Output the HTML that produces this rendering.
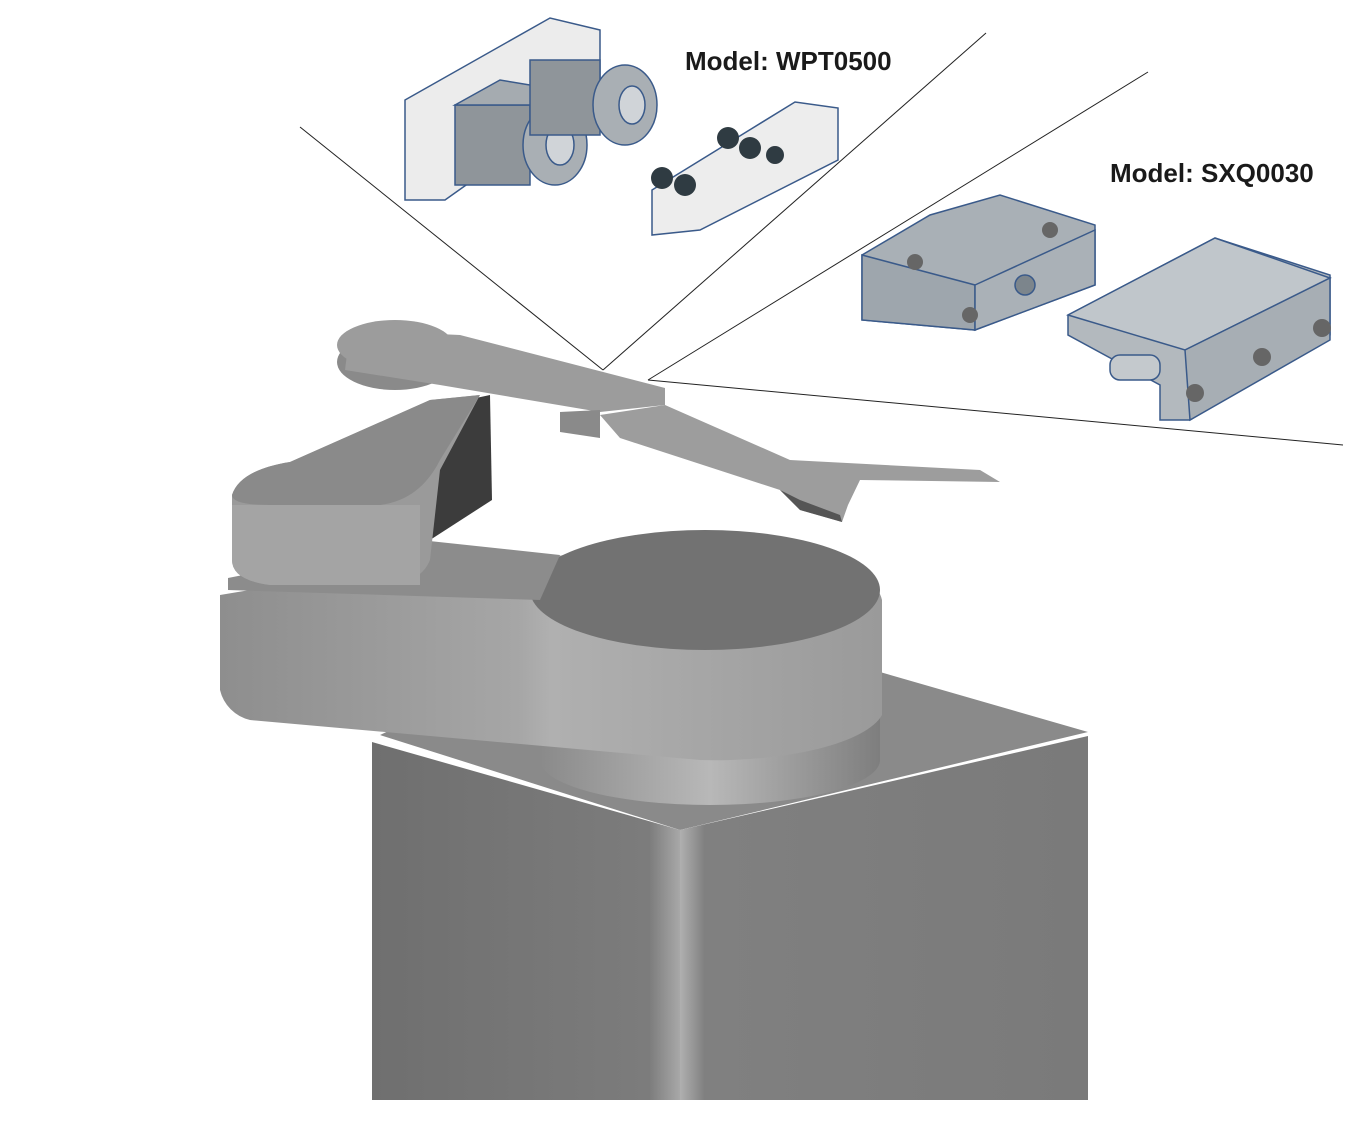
<!DOCTYPE html>
<html><head><meta charset="utf-8"><style>
html,body{margin:0;padding:0;background:#fff;}
svg{display:block}
text{font-family:"Liberation Sans",sans-serif;font-weight:bold;fill:#1a1a1a}
</style></head><body>
<svg width="1348" height="1139" viewBox="0 0 1348 1139" xmlns="http://www.w3.org/2000/svg">
<defs>
<linearGradient id="fl" x1="0" x2="1"><stop offset="0" stop-color="#6f6f6f"/><stop offset="0.9" stop-color="#7c7c7c"/><stop offset="1" stop-color="#a8a8a8"/></linearGradient>
<linearGradient id="fr" x1="0" x2="1"><stop offset="0" stop-color="#b0b0b0"/><stop offset="0.06" stop-color="#808080"/><stop offset="1" stop-color="#7a7a7a"/></linearGradient>
<linearGradient id="band" x1="0" x2="1"><stop offset="0" stop-color="#8e8e8e"/><stop offset="0.45" stop-color="#a6a6a6"/><stop offset="0.5" stop-color="#b0b0b0"/><stop offset="1" stop-color="#9a9a9a"/></linearGradient>
<linearGradient id="cyl" x1="0" x2="1"><stop offset="0" stop-color="#8a8a8a"/><stop offset="0.5" stop-color="#b8b8b8"/><stop offset="1" stop-color="#7e7e7e"/></linearGradient>
</defs>
<!-- base column -->
<polygon points="380,735 430,712 880,672 1088,732 680,830" fill="#8a8a8a"/>
<polygon points="372,742 680,830 680,1100 372,1100" fill="url(#fl)"/>
<polygon points="680,830 1088,736 1088,1100 680,1100" fill="url(#fr)"/>
<!-- cylinder under lower arm -->
<path d="M540,700 L540,760 A170,45 0 0 0 880,760 L880,700 Z" fill="url(#cyl)"/>
<!-- lower arm -->
<path d="M250,590 L700,540 A182,65 0 0 1 882,600 L882,715 A170,55 0 0 1 700,760 L250,720 A40,40 0 0 1 220,690 L220,595 Z" fill="url(#band)"/>
<ellipse cx="705" cy="590" rx="175" ry="60" fill="#727272"/>
<path d="M228,578 L420,540 L560,555 L540,600 L228,590 Z" fill="#8c8c8c"/>
<!-- upper arm dark side -->
<polygon points="420,410 490,395 492,500 430,540 420,540" fill="#3c3c3c"/>
<!-- upper arm block -->
<path d="M232,495 Q240,470 290,462 L430,400 L480,395 L440,470 L430,560 Q420,585 380,585 L270,585 Q232,580 232,560 Z" fill="#9a9a9a"/>
<path d="M232,495 Q240,470 290,462 L430,400 L480,395 L440,460 Q420,500 380,505 L270,505 Q232,505 232,495 Z" fill="#8a8a8a"/>
<path d="M232,505 L420,505 L420,585 L270,585 Q232,580 232,560 Z" fill="#a4a4a4"/>
<!-- link plate -->
<ellipse cx="395" cy="362" rx="58" ry="28" fill="#8a8a8a"/>
<ellipse cx="395" cy="345" rx="58" ry="25" fill="#9c9c9c"/>
<polygon points="350,330 460,335 665,388 665,405 600,412 440,385 345,370" fill="#9c9c9c"/>
<polygon points="560,412 600,410 600,438 560,432" fill="#8a8a8a"/>
<!-- fork -->
<polygon points="600,415 665,405 790,460 980,470 1000,482 860,480 848,505 842,522 800,510 780,490 620,438" fill="#9d9d9d"/>
<path d="M780,490 L800,510 842,522 840,515 800,500 Z" fill="#555"/>
<!-- leader lines -->
<g stroke="#222" stroke-width="1" fill="none">
<line x1="300" y1="127" x2="603" y2="370"/>
<line x1="986" y1="33" x2="603" y2="370"/>
<line x1="1148" y1="72" x2="648" y2="380"/>
<line x1="648" y1="380" x2="1343" y2="445"/>
</g>
<!-- WPT0500 parts -->
<g stroke="#3a5a8a" stroke-width="1.5">
<polygon points="405,100 550,18 600,30 600,90 445,200 405,200" fill="#ececec"/>
<rect x="455" y="105" width="75" height="80" fill="#8f959a"/>
<polygon points="455,105 500,80 560,90 530,105" fill="#a5abb0"/>
<ellipse cx="555" cy="145" rx="32" ry="40" fill="#a9afb4"/>
<ellipse cx="560" cy="145" rx="14" ry="20" fill="#d0d4d8"/>
<rect x="530" y="60" width="70" height="75" fill="#8f959a"/>
<ellipse cx="625" cy="105" rx="32" ry="40" fill="#a9afb4"/>
<ellipse cx="632" cy="105" rx="13" ry="19" fill="#d0d4d8"/>
<polygon points="652,190 795,102 838,108 838,160 700,230 652,235" fill="#ededed"/>
</g>
<g fill="#2f3b42">
<circle cx="662" cy="178" r="11"/><circle cx="685" cy="185" r="11"/>
<circle cx="728" cy="138" r="11"/><circle cx="750" cy="148" r="11"/><circle cx="775" cy="155" r="9"/>
</g>
<!-- SXQ0030 parts -->
<g stroke="#3a5a8a" stroke-width="1.5">
<polygon points="862,255 930,215 1000,195 1095,225 1095,285 975,330 862,320" fill="#a9b0b6"/>
<polygon points="862,255 975,285 975,330 862,320" fill="#9ea6ad"/>
<polygon points="975,285 1095,230 1095,285 975,330" fill="#aab1b7"/>
<circle cx="1025" cy="285" r="10" fill="#7c858c"/>
<polygon points="1068,315 1215,238 1330,275 1330,335 1190,420 1160,420 1160,385 1068,335" fill="#b3b9be"/>
<polygon points="1068,315 1185,350 1330,278 1215,238" fill="#c0c6cb"/>
<polygon points="1185,350 1330,278 1330,340 1190,420" fill="#a7aeb4"/>
<rect x="1110" y="355" width="50" height="25" rx="10" fill="#c4c9cd"/>
</g>
<g fill="#666">
<circle cx="1195" cy="393" r="9"/><circle cx="1262" cy="357" r="9"/><circle cx="1322" cy="328" r="9"/>
<circle cx="970" cy="315" r="8"/><circle cx="915" cy="262" r="8"/><circle cx="1050" cy="230" r="8"/>
</g>
<!-- labels -->
<text x="685" y="70" font-size="26">Model: WPT0500</text>
<text x="1110" y="182" font-size="26">Model: SXQ0030</text>
</svg>
</body></html>
